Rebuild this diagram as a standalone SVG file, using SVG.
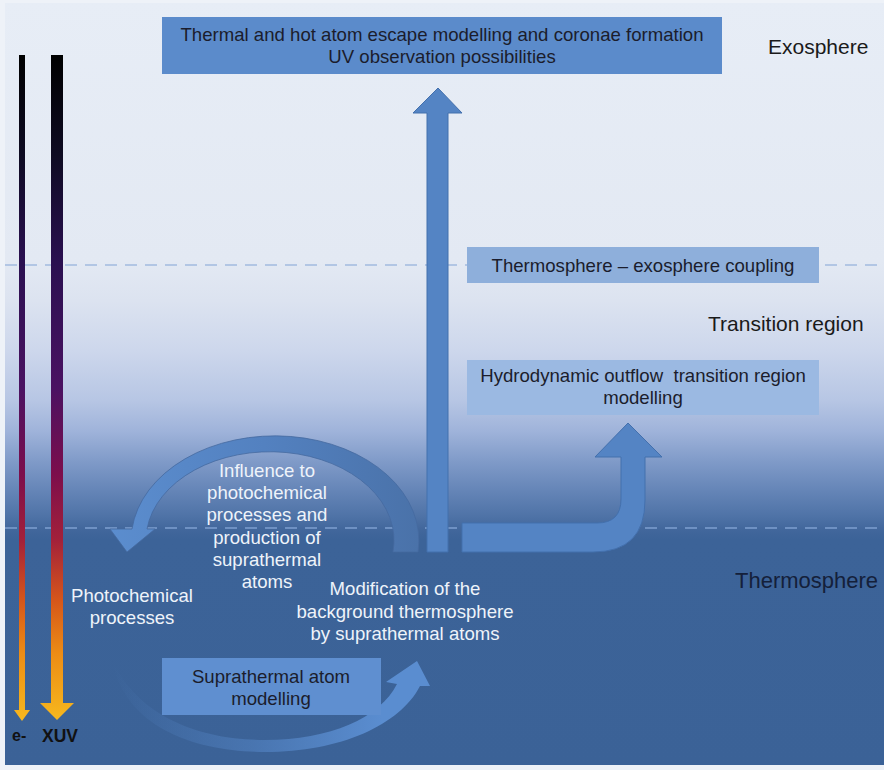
<svg xmlns="http://www.w3.org/2000/svg" width="884" height="770" viewBox="0 0 884 770">
<defs>
<linearGradient id="bg" gradientUnits="userSpaceOnUse" x1="0" y1="0" x2="0" y2="770">
<stop offset="0" stop-color="#e7edf6"/>
<stop offset="0.34" stop-color="#e3e9f3"/>
<stop offset="0.39" stop-color="#dce3f0"/>
<stop offset="0.455" stop-color="#cdd7ec"/>
<stop offset="0.52" stop-color="#b7c6e4"/>
<stop offset="0.56" stop-color="#9fb3da"/>
<stop offset="0.6" stop-color="#7f9ac8"/>
<stop offset="0.637" stop-color="#6585b7"/>
<stop offset="0.67" stop-color="#4f73a7"/>
<stop offset="0.687" stop-color="#42679c"/>
<stop offset="0.7" stop-color="#3c6398"/>
<stop offset="1" stop-color="#3b6297"/>
</linearGradient>
<linearGradient id="ray" gradientUnits="userSpaceOnUse" x1="0" y1="55" x2="0" y2="720">
<stop offset="0" stop-color="#000000"/>
<stop offset="0.15" stop-color="#0e0b22"/>
<stop offset="0.31" stop-color="#2a1050"/>
<stop offset="0.5" stop-color="#4a1262"/>
<stop offset="0.63" stop-color="#7c0e4c"/>
<stop offset="0.73" stop-color="#a3213a"/>
<stop offset="0.82" stop-color="#d6561a"/>
<stop offset="0.9" stop-color="#ec8c15"/>
<stop offset="1" stop-color="#f7b81e"/>
</linearGradient>
<linearGradient id="arcTop" gradientUnits="userSpaceOnUse" x1="110" y1="0" x2="418" y2="0">
<stop offset="0" stop-color="#5b8dce"/>
<stop offset="0.5" stop-color="#5381c0"/>
<stop offset="1" stop-color="#4a72a9"/>
</linearGradient>
<linearGradient id="arcBot" gradientUnits="userSpaceOnUse" x1="112" y1="0" x2="430" y2="0">
<stop offset="0" stop-color="#5a8dd0" stop-opacity="0"/>
<stop offset="0.45" stop-color="#5a8dd0" stop-opacity="0.45"/>
<stop offset="0.85" stop-color="#5a8dd0" stop-opacity="1"/>
<stop offset="1" stop-color="#5a8dd0" stop-opacity="1"/>
</linearGradient>
<style>
.dash{fill:none;stroke-width:1.6;stroke-dasharray:12 8}
.box text,.dark{font-family:"Liberation Sans",Arial,sans-serif;font-size:18.6px;fill:#1b1d2c;text-anchor:middle}
.white{font-family:"Liberation Sans",Arial,sans-serif;font-size:18.6px;fill:#eef3fa;text-anchor:middle}
.region{font-family:"Liberation Sans",Arial,sans-serif;font-size:21px;fill:#1a1a1a}
.region.thermo{font-size:22px;fill:#14203a}
.bold{font-family:"Liberation Sans",Arial,sans-serif;font-weight:bold;fill:#111111}
.arrow{fill:#5484c4;stroke:#4370ad;stroke-width:1}
</style>
</defs>

<rect x="0" y="0" width="884" height="770" fill="#eef2f8"/>
<rect x="5" y="3" width="879" height="762" fill="url(#bg)"/>

<g id="boundaries">
<line class="dash" x1="5" y1="265" x2="884" y2="265" stroke="#a3bbe0"/>
<line class="dash" x1="5" y1="528" x2="884" y2="528" stroke="#7d9fcf"/>
</g>

<g id="region-labels">
<text class="region" x="768" y="54">Exosphere</text>
<text class="region" x="708" y="331">Transition region</text>
<text class="region thermo" x="735" y="588">Thermosphere</text>
</g>

<g id="radiation">
<path d="M19,55 H25 V710 H30 L22,721 L14,710 H19 Z" fill="url(#ray)"/>
<path d="M51,55 H63 V703 H74 L57,720 L40,703 H51 Z" fill="url(#ray)"/>
<text class="bold" x="12" y="741" font-size="16">e-</text>
<text class="bold" x="42" y="742" font-size="17.5">XUV</text>
</g>

<g id="connectors">
<path id="arrow-up" class="arrow" d="M427,552 V113 H413 L438,88 L462,113 H448 V552 Z"/>
<path id="arrow-j" class="arrow" d="M462,552 V523 H597 Q621,523 621,499 V457 H595 L628,423 L662,457 H645 V500 Q645,552 593,552 Z"/>
<path id="arc-influence" d="M418,552 A143,104 0 0 0 132,529 L110,529 L127,552 L155,529 L147,529 A123,88 0 0 1 393,552 Z" fill="url(#arcTop)" stroke="#45699f" stroke-width="0.8"/>
<path id="arc-suprathermal" d="M112,660 C125,730 200,752 265,752 C340,752 400,725 420,686 L430,686 L417,661 L386,682 L397,684 C380,718 330,740 265,740 C205,740 140,720 112,660 Z" fill="url(#arcBot)"/>
</g>

<g id="node-escape" class="box">
<rect x="162" y="17" width="560" height="57" fill="#5b8bcb"/>
<text x="442" y="41">Thermal and hot atom escape modelling and coronae formation</text>
<text x="442" y="63">UV observation possibilities</text>
</g>

<g id="node-coupling" class="box">
<rect x="467" y="247" width="352" height="36" fill="#8eafdb"/>
<text x="643" y="272">Thermosphere – exosphere coupling</text>
</g>

<g id="node-hydro" class="box">
<rect x="467" y="360" width="352" height="55" fill="#9bb9e2"/>
<text x="643" y="382" xml:space="preserve">Hydrodynamic outflow  transition region</text>
<text x="643" y="404">modelling</text>
</g>

<g id="node-suprathermal" class="box">
<rect x="162" y="658" width="219" height="57" fill="#5f8fd0"/>
<text x="271" y="683">Suprathermal atom</text>
<text x="271" y="705">modelling</text>
</g>

<g id="label-influence">
<text class="white" x="267" y="477">Influence to</text>
<text class="white" x="267" y="499">photochemical</text>
<text class="white" x="267" y="521">processes and</text>
<text class="white" x="267" y="544">production of</text>
<text class="white" x="267" y="566">suprathermal</text>
<text class="white" x="267" y="588">atoms</text>
</g>

<g id="label-photochemical">
<text class="white" x="132" y="602">Photochemical</text>
<text class="white" x="132" y="624">processes</text>
</g>

<g id="label-modification">
<text class="white" x="405" y="595">Modification of the</text>
<text class="white" x="405" y="618">background thermosphere</text>
<text class="white" x="405" y="640">by suprathermal atoms</text>
</g>
</svg>
